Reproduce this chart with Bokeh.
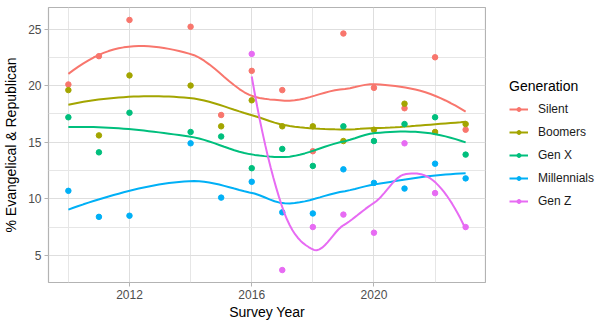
import numpy as np
from bokeh.plotting import figure
from bokeh.layouts import row
from bokeh.models import Range1d, FixedTicker, Legend, LegendItem
from bokeh.embed import file_html
from bokeh.resources import INLINE

# ---- data ----
years_all = [2010, 2011, 2012, 2014, 2015, 2016, 2017, 2018, 2019, 2020, 2021, 2022, 2023]
silent = [20.1, 22.6, 25.8, 25.2, 17.4, 21.3, 19.6, 14.2, 24.6, 19.8, 18.0, 22.5, 16.1]
boomers = [19.6, 15.6, 20.9, 20.0, 16.4, 18.7, 16.4, 16.4, 15.1, 16.1, 18.4, 15.9, 16.6]
gen_x = [17.2, 14.1, 17.6, 15.9, 15.5, 12.7, 14.4, 12.9, 16.4, 15.1, 16.6, 17.2, 13.9]
millennials = [10.7, 8.4, 8.5, 14.9, 10.1, 11.5, 8.8, 8.7, 12.6, 11.4, 10.9, 13.1, 11.8]
years_genz = [2016, 2017, 2018, 2019, 2020, 2021, 2022, 2023]
gen_z = [22.8, 3.7, 7.5, 8.6, 7.0, 14.9, 10.5, 7.5]

generations = ["Silent", "Boomers", "Gen X", "Millennials", "Gen Z"]
colors = ["#F8766D", "#A3A500", "#00BF7D", "#00B0F6", "#E76BF3"]
series = [
    (years_all, silent),
    (years_all, boomers),
    (years_all, gen_x),
    (years_all, millennials),
    (years_genz, gen_z),
]

x_ticks = [2012, 2016, 2020]
x_minor = [2010, 2014, 2018, 2022]
y_ticks = [5, 10, 15, 20, 25]
y_minor = [2.5, 7.5, 12.5, 17.5, 22.5]

SPAN = 0.8


def local_fit(x, y, x0, q):
    d = np.abs(x - x0)
    h = np.sort(d)[q - 1]
    w = np.where(d < h, (1 - (d / h) ** 3) ** 3, 0.0)
    X = np.vstack([np.ones_like(x), x - x0, (x - x0) ** 2]).T
    A = X.T @ (w[:, None] * X)
    b = X.T @ (w * y)
    beta = np.linalg.lstsq(A, b, rcond=None)[0]
    return beta[0], beta[1]


def loess(x, y, xs, span=SPAN, cell=0.2):
    """Local quadratic loess fitted at kd-tree vertices (split at median
    data points) and interpolated with cubic Hermite pieces, like R."""
    x = np.asarray(x, float)
    y = np.asarray(y, float)
    n = len(x)
    q = min(n, int(np.floor(n * span + 1e-5)))
    fc = int(np.floor(n * span * cell))
    srt = np.sort(x)
    mu = 0.005 * (srt[-1] - srt[0])
    lo0, hi0 = srt[0] - mu, srt[-1] + mu
    verts = {lo0, hi0}

    def split(l, u, lob, hib):
        if u - l + 1 <= fc:
            return
        m = (l + u) // 2
        xi = srt[m - 1]
        if xi == lob or xi == hib:
            return
        verts.add(xi)
        split(l, m, lob, xi)
        split(m + 1, u, xi, hib)

    split(1, n, lo0, hi0)
    vs = np.array(sorted(verts))
    vals = np.array([local_fit(x, y, v, q) for v in vs])
    out = []
    for x0 in xs:
        i = int(np.clip(np.searchsorted(vs, x0, side="right") - 1, 0, len(vs) - 2))
        h = vs[i + 1] - vs[i]
        t = (x0 - vs[i]) / h
        h00 = 2 * t**3 - 3 * t**2 + 1
        h10 = t**3 - 2 * t**2 + t
        h01 = -2 * t**3 + 3 * t**2
        h11 = t**3 - t**2
        out.append(h00 * vals[i, 0] + h10 * h * vals[i, 1]
                   + h01 * vals[i + 1, 0] + h11 * h * vals[i + 1, 1])
    return np.array(out)


FONT = "Liberation Sans"

# ---------------- main panel ----------------
p = figure(
    width=486, height=327,
    x_range=Range1d(2009.35, 2023.65), y_range=Range1d(2.6, 26.9),
    output_backend="svg", toolbar_location=None,
    min_border_left=46, min_border_top=7, min_border_bottom=45, min_border_right=1,
    background_fill_color="white", border_fill_color="white",
)
p.outline_line_color = "#B3B3B3"
p.outline_line_width = 1.2

for name, col, (xs, ys) in zip(generations, colors, series):
    sx = np.linspace(min(xs), max(xs), 80)
    p.line(sx, loess(xs, ys, sx), line_color=col, line_width=2)
    p.scatter(xs, ys, size=5.5, fill_color=col, line_color=col)

for ax in (p.xaxis, p.yaxis):
    ax.axis_line_color = None
    ax.major_tick_line_color = "#B3B3B3"
    ax.major_tick_in = 0
    ax.major_tick_out = 4
    ax.minor_tick_line_color = None
    ax.major_label_text_font = FONT
    ax.major_label_text_font_size = "12px"
    ax.major_label_text_color = "#4D4D4D"
    ax.axis_label_text_font = FONT
    ax.axis_label_text_font_size = "14px"
    ax.axis_label_text_font_style = "normal"
    ax.axis_label_text_color = "black"
    ax.major_label_standoff = 3

p.xaxis.ticker = FixedTicker(ticks=x_ticks, minor_ticks=x_minor)
p.yaxis.ticker = FixedTicker(ticks=y_ticks, minor_ticks=y_minor)
p.xaxis.axis_label = "Survey Year"
p.yaxis.axis_label = "% Evangelical & Republican"
p.xaxis.axis_label_standoff = 2
p.yaxis.axis_label_standoff = 6

for g in (p.xgrid, p.ygrid):
    g.grid_line_color = "#DEDEDE"
    g.grid_line_width = 1
    g.minor_grid_line_color = "#E6E6E6"
    g.minor_grid_line_width = 1

# ---------------- legend panel ----------------
lg = figure(
    width=125, height=327,
    x_range=Range1d(0, 1), y_range=Range1d(0, 1),
    output_backend="svg", toolbar_location=None,
    min_border_left=0, min_border_right=0, min_border_top=0, min_border_bottom=0,
    x_axis_location=None, y_axis_location=None,
    background_fill_color="white", border_fill_color="white",
)
lg.outline_line_color = None
lg.xgrid.visible = False
lg.ygrid.visible = False

items = []
for name, col in zip(generations, colors):
    # renderers only feed the legend keys; their points lie outside the view
    lr = lg.line(x=[5, 6], y=[5, 6], line_color=col, line_width=2)
    sr = lg.scatter(x=[5], y=[5], size=5.5, fill_color=col, line_color=col)
    items.append(LegendItem(label=name, renderers=[lr, sr]))

legend = Legend(items=items, title="Generation", location=(23, 71))
legend.title_text_font = FONT
legend.title_text_font_size = "14px"
legend.title_text_font_style = "normal"
legend.title_text_color = "black"
legend.title_standoff = 5
legend.label_text_font = FONT
legend.label_text_font_size = "12px"
legend.label_text_color = "#1A1A1A"
legend.label_standoff = 10
legend.border_line_color = None
legend.background_fill_alpha = 0
legend.glyph_width = 19
legend.glyph_height = 10
legend.label_height = 20
legend.spacing = 3
legend.padding = 5
legend.margin = 0
lg.add_layout(legend, "center")

layout = row(p, lg)
open("out.html", "w").write(file_html(layout, INLINE))
